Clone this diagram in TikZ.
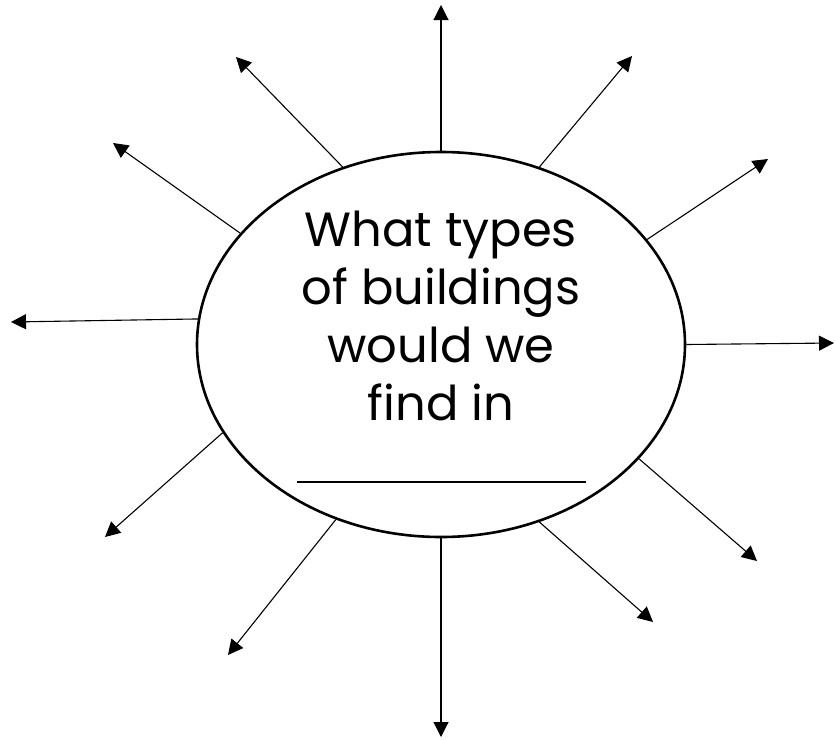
\documentclass[tikz,border=0pt]{standalone}
\usepackage{fontspec}
\setmainfont{Poppins}
\usetikzlibrary{shapes.geometric, arrows.meta}
\tikzset{
    topic node/.style={
        ellipse,
        draw=black,
        line width=2.6pt,
        minimum width=488pt,
        minimum height=385pt,
        inner sep=0pt
    },
    question text/.style={
        align=center,
        font=\fontsize{48}{58}\selectfont
    },
    ray arrow/.style={
        line width=1.1pt,
        -{Triangle[length=15pt, width=15pt]}
    },
    blank line/.style={
        line width=1.6pt
    }
}
\begin{document}
\begin{tikzpicture}[x=1pt, y=-1pt]
    % Page frame
    \useasboundingbox (0,0) rectangle (835,739);

    % Central topic
    \node[topic node] (topic) at (441, 344.5) {};
    \node[question text] (question) at (441, 316) {What types\\of buildings\\would we\\find in};

    % Blank to fill in
    \coordinate (blankL) at (297, 482);
    \coordinate (blankR) at (586, 482);
    \draw[blank line] (blankL) -- (blankR);

    % Arrow tips
    \coordinate (tipN)   at (441, 5);
    \coordinate (tipNNE) at (632, 56);
    \coordinate (tipNE)  at (768, 159);
    \coordinate (tipE)   at (834, 343);
    \coordinate (tipSE)  at (757, 561);
    \coordinate (tipSSE) at (653, 622);
    \coordinate (tipS)   at (441, 737);
    \coordinate (tipSSW) at (228, 655);
    \coordinate (tipSW)  at (105, 537);
    \coordinate (tipW)   at (11, 322);
    \coordinate (tipNW)  at (113, 143);
    \coordinate (tipNNW) at (236, 57);

    % Rays out of the ellipse
    \draw[ray arrow] (topic.90)    -- (tipN);
    \draw[ray arrow] (topic.61.6)  -- (tipNNE);
    \draw[ray arrow] (topic.27)    -- (tipNE);
    \draw[ray arrow] (topic.0)     -- (tipE);
    \draw[ray arrow] (topic.-30.3) -- (tipSE);
    \draw[ray arrow] (topic.-61.5) -- (tipSSE);
    \draw[ray arrow] (topic.-90)   -- (tipS);
    \draw[ray arrow] (topic.239.4) -- (tipSSW);
    \draw[ray arrow] (topic.202.5) -- (tipSW);
    \draw[ray arrow] (topic.174.7) -- (tipW);
    \draw[ray arrow] (topic.151.8) -- (tipNW);
    \draw[ray arrow] (topic.119)   -- (tipNNW);
\end{tikzpicture}
\end{document}
